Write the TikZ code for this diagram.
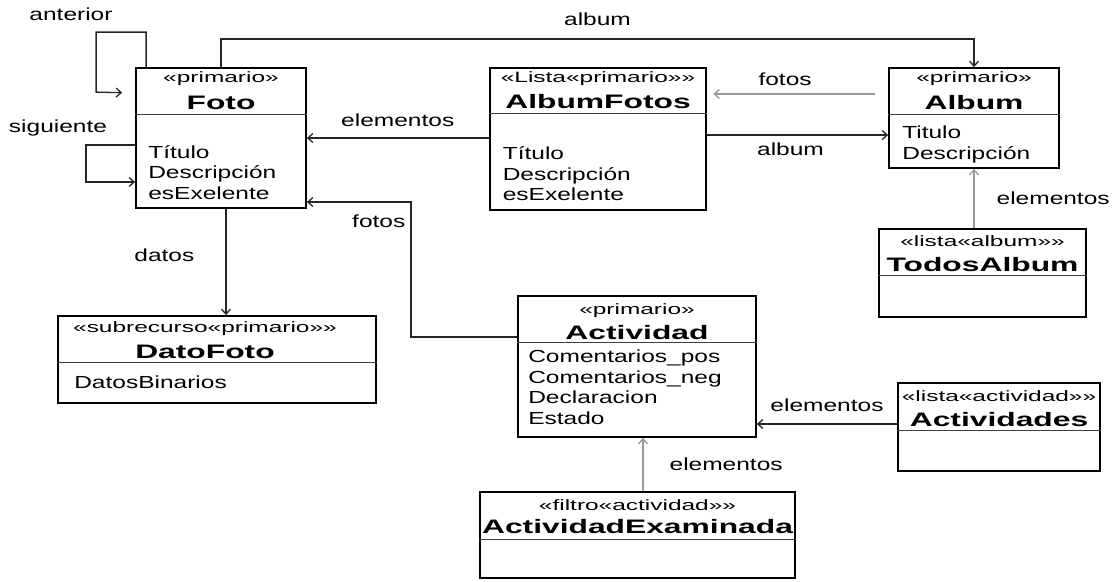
\documentclass[tikz,border=0pt]{standalone}
\usepackage{fontspec}
\setmainfont{Liberation Sans}[FakeStretch=1.4]
\newfontfamily\namefont{Liberation Sans}[FakeStretch=1.63]
\usepackage{tikz}
\usetikzlibrary{arrows.meta,positioning}

\begin{document}
\begin{tikzpicture}[
    x=1pt, y=-1pt,
    cls/.style={rectangle, draw, line width=1.8pt, fill=white, inner sep=0pt},
    clsthick/.style={cls, line width=2.8pt},
    stereo/.style={font=\namefont\fontsize{15}{17}\selectfont, inner sep=0pt},
    cname/.style={font=\namefont\bfseries\fontsize{19.5}{22}\selectfont, inner sep=0pt},
    attrs/.style={font=\fontsize{17.5}{20.5}\selectfont, align=left, inner sep=0pt, anchor=north west},
    divider/.style={line width=1.2pt, draw=black!75},
    arrow/.style={-{Straight Barb[length=5pt, width=9pt]}, line width=1.3pt, draw=black!85},
    greyarrow/.style={arrow, draw=black!40},
    lbl/.style={font=\fontsize{17.5}{20.5}\selectfont, inner sep=0pt},
  ]
    \fill[white] (0,0) rectangle (1119,581);
    \useasboundingbox (0,0) rectangle (1119,581);

    % class boxes
    \node[cls, minimum width=170pt, minimum height=140pt] (foto) at (221,138) {};
    \node[clsthick, minimum width=216pt, minimum height=142pt] (albumfotos) at (598,139) {};
    \node[cls, minimum width=170pt, minimum height=100pt] (album) at (974,118) {};
    \node[clsthick, minimum width=207pt, minimum height=88pt] (todosalbum) at (982.5,273) {};
    \node[cls, minimum width=318pt, minimum height=87pt] (datofoto) at (217,359.5) {};
    \node[cls, minimum width=238pt, minimum height=141pt] (actividad) at (637,366.5) {};
    \node[cls, minimum width=202pt, minimum height=88pt] (actividades) at (999,427) {};
    \node[clsthick, minimum width=315pt, minimum height=86pt] (actexam) at (637.5,535) {};

    \draw[divider] ([yshift=-47pt]foto.north west) -- ([yshift=-47pt]foto.north east);
    \draw[divider] ([yshift=-47pt]albumfotos.north west) -- ([yshift=-47pt]albumfotos.north east);
    \draw[divider] ([yshift=-47pt]album.north west) -- ([yshift=-47pt]album.north east);
    \draw[divider] ([yshift=-48pt]todosalbum.north west) -- ([yshift=-48pt]todosalbum.north east);
    \draw[divider] ([yshift=-47pt]datofoto.north west) -- ([yshift=-47pt]datofoto.north east);
    \draw[divider] ([yshift=-47pt]actividad.north west) -- ([yshift=-47pt]actividad.north east);
    \draw[divider] ([yshift=-48pt]actividades.north west) -- ([yshift=-48pt]actividades.north east);
    \draw[divider] ([yshift=-49pt]actexam.north west) -- ([yshift=-49pt]actexam.north east);

    % texts
    \node[stereo] (fotoS) at ([yshift=-12pt]foto.north) {«primario»};
    \node[cname] (fotoN) at ([yshift=-36pt]foto.north) {Foto};
    \node[attrs] (fotoA) at ([shift={(13pt,-78pt)}]foto.north west) {Título\\Descripción\\esExelente};

    \node[stereo] (albumfotosS) at ([yshift=-12pt]albumfotos.north) {«Lista«primario»»};
    \node[cname] (albumfotosN) at ([yshift=-35pt]albumfotos.north) {AlbumFotos};
    \node[attrs] (albumfotosA) at ([shift={(14pt,-80pt)}]albumfotos.north west) {Título\\Descripción\\esExelente};

    \node[stereo] (albumS) at ([yshift=-12pt]album.north) {«primario»};
    \node[cname] (albumN) at ([yshift=-35pt]album.north) {Album};
    \node[attrs] (albumA) at ([shift={(14pt,-59pt)}]album.north west) {Titulo\\Descripción};

    \node[stereo] (todosalbumS) at ([yshift=-14pt]todosalbum.north) {«lista«album»»};
    \node[cname] (todosalbumN) at ([yshift=-37pt]todosalbum.north) {TodosAlbum};

    \node[stereo] (datofotoS) at ([shift={(-12pt,-14pt)}]datofoto.north) {«subrecurso«primario»»};
    \node[cname] (datofotoN) at ([shift={(-12pt,-37pt)}]datofoto.north) {DatoFoto};
    \node[attrs] (datofotoA) at ([shift={(17pt,-61pt)}]datofoto.north west) {DatosBinarios};

    \node[stereo] (actividadS) at ([yshift=-16pt]actividad.north) {«primario»};
    \node[cname] (actividadN) at ([yshift=-37pt]actividad.north) {Actividad};
    \node[attrs] (actividadA) at ([shift={(11pt,-55pt)}]actividad.north west) {Comentarios\_pos\\Comentarios\_neg\\Declaracion\\Estado};

    \node[stereo] (actividadesS) at ([yshift=-14pt]actividades.north) {«lista«actividad»»};
    \node[cname] (actividadesN) at ([yshift=-37pt]actividades.north) {Actividades};

    \node[stereo] (actexamS) at ([yshift=-15pt]actexam.north) {«filtro«actividad»»};
    \node[cname] (actexamN) at ([yshift=-36pt]actexam.north) {ActividadExaminada};

    % associations
    \node[lbl] (lanterior) at (71,14) {anterior};
    \node[lbl] (lsiguiente) at (58,128) {siguiente};
    \draw[arrow, shorten >=13pt] ([xshift=11pt]foto.north west) -- ++(0,-35) -| ++(-50,60) -- (foto.west |- 0,93);
    \draw[arrow] ([yshift=-7pt]foto.west) -- ++(-49,0) |- ([yshift=-44pt]foto.west);

    \draw[arrow] (foto.north) -- ++(0,-28) -| node[lbl, pos=0.25, above=13pt] {album} (album.north);
    \draw[arrow] (albumfotos.west |- 0,138) -- node[lbl, above=11pt] {elementos} (foto.east |- 0,138);
    \draw[greyarrow, shorten <=13pt, shorten >=6pt] (album.west |- 0,94) -- node[lbl, pos=0.57, above=8pt] {fotos} (albumfotos.east |- 0,94);
    \draw[arrow] (albumfotos.east |- 0,135) -- node[lbl, pos=0.46, below=7pt] {album} (album.west |- 0,135);
    \draw[greyarrow] (album.south |- todosalbum.north) -- node[lbl, right=22pt] {elementos} (album.south);
    \draw[arrow] (foto.south -| 226,0) -- node[lbl, pos=0.44, left=31pt] {datos} (datofoto.north -| 226,0);
    \draw[arrow] ([yshift=29.5pt]actividad.west) -| (411,202) -- node[lbl, pos=0, below left=12pt and 5pt] {fotos} (foto.east |- 0,202);
    \draw[arrow] (actividades.west |- 0,424) -- node[lbl, above=12pt] {elementos} (actividad.east |- 0,424);
    \draw[greyarrow] (actexam.north -| 643,0) -- node[lbl, right=26pt] {elementos} (actividad.south -| 643,0);
\end{tikzpicture}
\end{document}
